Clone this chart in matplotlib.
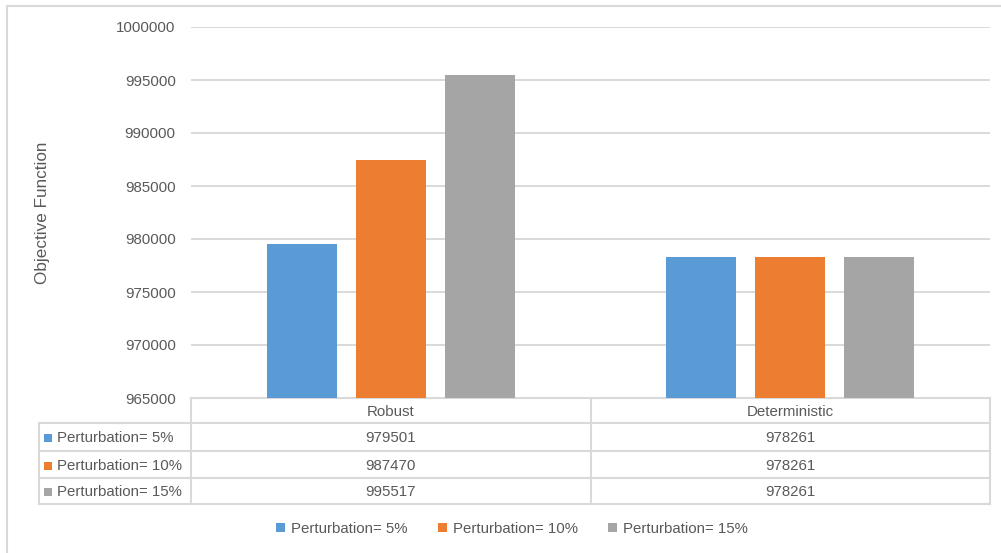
import matplotlib.pyplot as plt
import numpy as np

plt.rcParams['font.family'] = ['Liberation Sans', 'DejaVu Sans']

categories = ['Robust', 'Deterministic']
series_names = ['Perturbation= 5%', 'Perturbation= 10%', 'Perturbation= 15%']
values = [
    [979501, 978261],
    [987470, 978261],
    [995517, 978261],
]
colors = ['#5B9BD5', '#ED7D31', '#A5A5A5']
yticks = [965000, 970000, 975000, 980000, 985000, 990000, 995000, 1000000]

W, H = 1001, 553
TXT = '#595959'
LINE = '#D9D9D9'

fig = plt.figure(figsize=(W / 100, H / 100), dpi=100)

# plot area in pixel terms
px_l, px_r, px_t, px_b = 191, 990, 27, 398
ax = fig.add_axes([px_l / W, 1 - px_b / H, (px_r - px_l) / W, (px_b - px_t) / H])

x = np.arange(len(categories))
width = 0.175
step = 0.223
for i, (name, vals) in enumerate(zip(series_names, values)):
    ax.bar(x + (i - 1) * step, vals, width, color=colors[i], label=name, zorder=3)

ax.set_xlim(-0.5, len(categories) - 0.5)
ax.set_ylim(yticks[0], yticks[-1])
ax.set_yticks(yticks)
ax.set_yticklabels([str(t) for t in yticks], fontsize=10.8, color=TXT)
ax.tick_params(axis='y', length=0, pad=11)
ax.set_xticks([])
ax.grid(axis='y', color=LINE, linewidth=1.4, zorder=0)
for s in ax.spines.values():
    s.set_visible(False)

# overlay in pixel coordinates for the data table and frame
ov = fig.add_axes([0, 0, 1, 1], zorder=-1)
ov.set_xlim(0, W)
ov.set_ylim(H, 0)
ov.axis('off')
ov.patch.set_alpha(0)

# outer chart frame
ov.plot([7, 7, W + 5], [H + 5, 6, 6], color=LINE, lw=1.5)

# data table
row_y = [398, 423, 451, 478, 504]
lab_l = 39
col_x = [px_l, (px_l + px_r) / 2, px_r]
lw = 1.5
ov.plot([px_l, px_r], [row_y[0], row_y[0]], color=LINE, lw=lw)
for yy in row_y[1:]:
    ov.plot([lab_l, px_r], [yy, yy], color=LINE, lw=lw)
ov.plot([lab_l, lab_l], [row_y[1], row_y[-1]], color=LINE, lw=lw)
for xx in col_x:
    ov.plot([xx, xx], [row_y[0], row_y[-1]], color=LINE, lw=lw)

for j, cat in enumerate(categories):
    cx = (col_x[j] + col_x[j + 1]) / 2
    ov.text(cx, (row_y[0] + row_y[1]) / 2 + 1, cat, ha='center', va='center',
            fontsize=10.8, color=TXT)
for i, name in enumerate(series_names):
    cy = (row_y[i + 1] + row_y[i + 2]) / 2 + 1
    ov.add_patch(plt.Rectangle((44, cy - 4), 7.5, 8, color=colors[i], lw=0))
    ov.text(57, cy, name, ha='left', va='center', fontsize=10.8, color=TXT)
    for j in range(len(categories)):
        cx = (col_x[j] + col_x[j + 1]) / 2
        ov.text(cx, cy, str(values[i][j]), ha='center', va='center',
                fontsize=10.8, color=TXT)

# y label
ov.text(43, (px_t + px_b) / 2, 'Objective Function', rotation=90,
        ha='center', va='center', fontsize=12.3, color=TXT)

fig.legend(loc='center', bbox_to_anchor=(512 / W, 1 - 529 / H), ncol=3,
           frameon=False, fontsize=10.8, handlelength=0.6, handleheight=0.6,
           handletextpad=0.4, columnspacing=2.0, labelcolor=TXT)

fig.savefig('out.png', dpi=100)
